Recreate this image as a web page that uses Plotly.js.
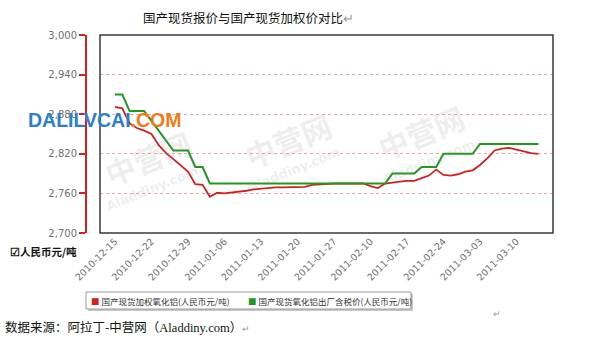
<!DOCTYPE html>
<html>
<head>
<meta charset="utf-8">
<script src="https://cdn.plot.ly/plotly-3.0.1.min.js"></script>
<style>
  html, body { margin: 0; padding: 0; background: #fff; }
  #chart { width: 592px; height: 342px; }
</style>
</head>
<body>
<div id="chart"></div>
<script>
// Trading days, 2010-12-15 to 2011-03-15
const dates = [
  "2010-12-15","2010-12-16","2010-12-17","2010-12-20","2010-12-21",
  "2010-12-22","2010-12-23","2010-12-24","2010-12-27","2010-12-28",
  "2010-12-29","2010-12-30","2010-12-31","2011-01-04","2011-01-05",
  "2011-01-06","2011-01-07","2011-01-10","2011-01-11","2011-01-12",
  "2011-01-13","2011-01-14","2011-01-17","2011-01-18","2011-01-19",
  "2011-01-20","2011-01-21","2011-01-24","2011-01-25","2011-01-26",
  "2011-01-27","2011-01-28","2011-01-31","2011-02-01","2011-02-09",
  "2011-02-10","2011-02-11","2011-02-14","2011-02-15","2011-02-16",
  "2011-02-17","2011-02-18","2011-02-21","2011-02-22","2011-02-23",
  "2011-02-24","2011-02-25","2011-02-28","2011-03-01","2011-03-02",
  "2011-03-03","2011-03-04","2011-03-07","2011-03-08","2011-03-09",
  "2011-03-10","2011-03-11","2011-03-14","2011-03-15"
];

// 国产现货加权氧化铝 (人民币元/吨)
const weightedPrice = [
  2891, 2889, 2866, 2859, 2855, 2850, 2833, 2821, 2812, 2803,
  2793, 2774, 2773, 2755, 2761, 2760, 2761, 2763, 2764, 2766,
  2767, 2769, 2769, 2769, 2769, 2769, 2770, 2773, 2774, 2775,
  2775, 2775, 2775, 2775, 2775, 2771, 2768, 2775, 2777, 2778,
  2779, 2779, 2783, 2787, 2796, 2788, 2787, 2789, 2793, 2795,
  2803, 2813, 2825, 2828, 2829, 2826, 2824, 2821, 2820
];

// 国产现货氧化铝出厂含税价 (人民币元/吨)
const exFactoryPrice = [
  2910, 2910, 2885, 2885, 2885, 2870, 2855, 2840, 2825, 2825,
  2825, 2800, 2800, 2775, 2775, 2775, 2775, 2775, 2775, 2775,
  2775, 2775, 2775, 2775, 2775, 2775, 2775, 2775, 2775, 2775,
  2775, 2775, 2775, 2775, 2775, 2775, 2775, 2775, 2790, 2790,
  2790, 2790, 2800, 2800, 2800, 2820, 2820, 2820, 2820, 2820,
  2835, 2835, 2835, 2835, 2835, 2835, 2835, 2835, 2835
];

const tickDates = [
  "2010-12-15","2010-12-22","2010-12-29","2011-01-06","2011-01-13","2011-01-20",
  "2011-01-27","2011-02-10","2011-02-17","2011-02-24","2011-03-03","2011-03-10"
];
const yTicks = [2700, 2760, 2820, 2880, 2940, 3000];

const seriesNames = ["国产现货加权氧化铝(人民币元/吨)", "国产现货氧化铝出厂含税价(人民币元/吨)"];
const RED = "#d21f1f";
const GREEN = "#1f9a1f";

const W = 592, H = 342;
const px = v => v / W;          // pixel -> paper x
const py = v => 1 - v / H;      // pixel -> paper y

const CJK = "'Noto Sans CJK SC', 'Noto Sans', sans-serif";

const traces = [
  {
    type: "scatter", mode: "lines", x: dates, y: weightedPrice,
    name: seriesNames[0], showlegend: false,
    line: { color: RED, width: 1.8 }, hoverinfo: "x+y"
  },
  {
    type: "scatter", mode: "lines", x: dates, y: exFactoryPrice,
    name: seriesNames[1], showlegend: false,
    line: { color: GREEN, width: 2 }, hoverinfo: "x+y"
  }
];

// faint site watermarks across the plot
const wm = [];
[[95, 158], [288, 140], [474, 132]].forEach(([cx, cy]) => {
  wm.push({
    xref: "paper", yref: "paper", x: px(cx), y: py(cy),
    text: "<b>中营网</b>", showarrow: false, textangle: -22,
    font: { family: CJK, size: 30, color: "rgba(150,150,150,0.17)" }
  });
  wm.push({
    xref: "paper", yref: "paper", x: px(cx + 6), y: py(cy + 30),
    text: "<b>Aladdiny.com</b>", showarrow: false, textangle: -22,
    font: { family: "DejaVu Sans", size: 13, color: "rgba(150,150,150,0.17)" }
  });
});

const layout = {
  width: W, height: H,
  margin: { l: 0, r: 0, t: 0, b: 0 },
  paper_bgcolor: "#ffffff",
  plot_bgcolor: "#ffffff",
  showlegend: false,
  xaxis: {
    type: "category",
    domain: [px(100), px(553)],
    range: [-2.05, 60.0],
    tickmode: "array", tickvals: tickDates, ticktext: tickDates,
    tickangle: -45,
    tickfont: { family: "DejaVu Sans", size: 9.5, color: "#707070" },
    ticks: "", showgrid: false, zeroline: false, showline: false,
    automargin: false, fixedrange: true
  },
  yaxis: {
    domain: [py(233), py(35)],
    range: [2700, 3000],
    tickmode: "array", tickvals: yTicks, tickformat: ",d",
    anchor: "free", position: px(86),
    showline: true, linecolor: RED, linewidth: 2,
    ticks: "outside", ticklen: 6, tickwidth: 2, tickcolor: RED,
    tickfont: { family: "DejaVu Sans", size: 10, color: "#707070" },
    showgrid: true, gridcolor: "#f2a3a3", gridwidth: 1, griddash: "3px,3px",
    zeroline: false, automargin: false, fixedrange: true
  },
  shapes: [
    // plot frame
    { type: "rect", xref: "x domain", yref: "y domain", x0: 0, x1: 1, y0: 0, y1: 1,
      line: { color: "#3a3a3a", width: 1.5 }, layer: "above" },
    // legend box shadow and box
    { type: "rect", xref: "paper", yref: "paper",
      x0: px(88), x1: px(413), y0: py(311), y1: py(294),
      fillcolor: "#c8c8c8", line: { width: 0 }, layer: "below" },
    { type: "rect", xref: "paper", yref: "paper",
      x0: px(86), x1: px(411), y0: py(309), y1: py(292),
      fillcolor: "#ffffff", line: { color: "#9a9a9a", width: 1 }, layer: "below" }
  ],
  annotations: [
    ...wm,
    {
      xref: "paper", yref: "paper", x: px(248), y: py(18),
      text: '国产现货报价与国产现货加权价对比<span style="color:#9a9a9a">↵</span>',
      showarrow: false, xanchor: "center", yanchor: "middle",
      font: { family: CJK, size: 12.5, color: "#111" }
    },
    {
      xref: "paper", yref: "paper", x: px(26), y: py(120),
      text: '<b><span style="color:#2b7fcb">DALILVCAI</span><span style="color:#f07a1c">.COM</span></b>',
      showarrow: false, xanchor: "left", yanchor: "middle",
      font: { family: "Liberation Sans, Arial, sans-serif", size: 19.5 }
    },
    {
      xref: "paper", yref: "paper", x: px(8), y: py(251),
      text: "<b>☑人民币元/吨</b>",
      showarrow: false, xanchor: "left", yanchor: "middle",
      font: { family: CJK, size: 10.5, color: "#111" }
    },
    {
      xref: "paper", yref: "paper", x: px(89), y: py(300.5),
      text: '<span style="color:' + RED + '">■</span> ' + seriesNames[0],
      showarrow: false, xanchor: "left", yanchor: "middle",
      font: { family: CJK, size: 8.5, color: "#333" }
    },
    {
      xref: "paper", yref: "paper", x: px(246), y: py(300.5),
      text: '<span style="color:' + GREEN + '">■</span> ' + seriesNames[1],
      showarrow: false, xanchor: "left", yanchor: "middle",
      font: { family: CJK, size: 8.5, color: "#333" }
    },
    {
      xref: "paper", yref: "paper", x: px(497), y: py(313),
      text: "↵", showarrow: false, xanchor: "center", yanchor: "middle",
      font: { family: CJK, size: 9, color: "#9a9a9a" }
    },
    {
      xref: "paper", yref: "paper", x: px(3), y: py(326),
      text: '数据来源：阿拉丁-中营网（<span style="font-family:Liberation Serif">Aladdiny.com</span>）<span style="color:#9a9a9a;font-size:9px">↵</span>',
      showarrow: false, xanchor: "left", yanchor: "middle",
      font: { family: CJK, size: 12.5, color: "#111" }
    }
  ]
};

Plotly.newPlot("chart", traces, layout, { staticPlot: true, displayModeBar: false });
</script>
</body>
</html>
